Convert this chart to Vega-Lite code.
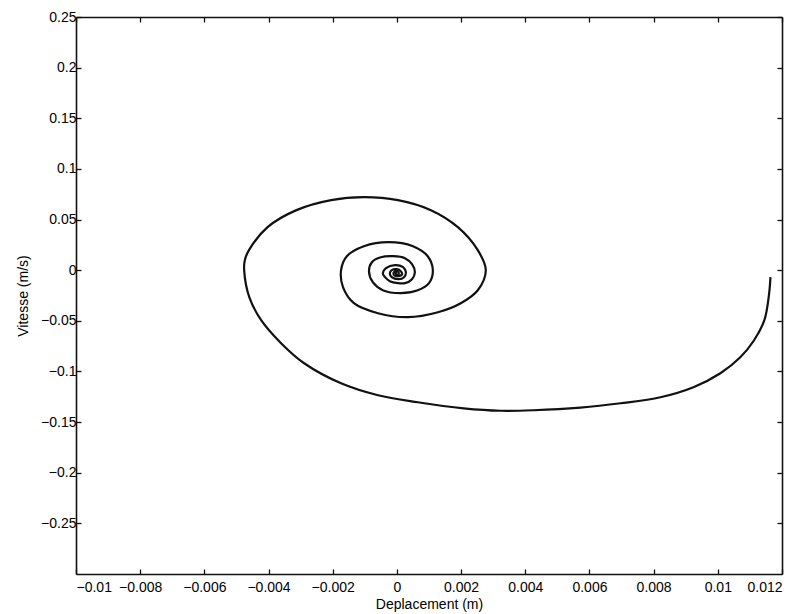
{
  "$schema": "https://vega.github.io/schema/vega-lite/v6.json",
  "width": 706,
  "height": 557,
  "autosize": {"type": "none"},
  "padding": {"left": 76, "top": 17, "right": 21, "bottom": 40},
  "background": "white",
  "config": {
    "view": {"stroke": null},
    "axis": {
      "labelFont": "Liberation Sans",
      "titleFont": "Liberation Sans",
      "labelFontSize": 14,
      "titleFontSize": 14,
      "labelFontWeight": "normal",
      "titleFontWeight": "normal",
      "labelColor": "#000",
      "titleColor": "#000",
      "domainColor": "#111",
      "domainWidth": 1.6,
      "tickColor": "#111",
      "tickWidth": 1.3,
      "tickSize": -5,
      "grid": false
    }
  },
  "data": {
    "values": [
      {"t": 1, "x": 0.01164, "v": -0.0069},
      {"t": 2, "x": 0.0116, "v": -0.0227},
      {"t": 3, "x": 0.01145, "v": -0.0494},
      {"t": 4, "x": 0.01113, "v": -0.0692},
      {"t": 5, "x": 0.0107, "v": -0.086},
      {"t": 6, "x": 0.01008, "v": -0.1018},
      {"t": 7, "x": 0.00924, "v": -0.1156},
      {"t": 8, "x": 0.00821, "v": -0.1255},
      {"t": 9, "x": 0.00697, "v": -0.1314},
      {"t": 10, "x": 0.00572, "v": -0.1357},
      {"t": 11, "x": 0.00426, "v": -0.1383},
      {"t": 12, "x": 0.00324, "v": -0.1388},
      {"t": 13, "x": 0.00208, "v": -0.1364},
      {"t": 14, "x": 0.00065, "v": -0.1304},
      {"t": 15, "x": -0.00059, "v": -0.1235},
      {"t": 16, "x": -0.00174, "v": -0.1117},
      {"t": 17, "x": -0.00289, "v": -0.0919},
      {"t": 18, "x": -0.00361, "v": -0.0721},
      {"t": 19, "x": -0.00423, "v": -0.0494},
      {"t": 20, "x": -0.0046, "v": -0.0267},
      {"t": 21, "x": -0.00476, "v": 0},
      {"t": 22, "x": -0.00474, "v": 0.0099},
      {"t": 23, "x": -0.00461, "v": 0.0198},
      {"t": 24, "x": -0.00403, "v": 0.0425},
      {"t": 25, "x": -0.00313, "v": 0.0593},
      {"t": 26, "x": -0.00205, "v": 0.0692},
      {"t": 27, "x": -0.00103, "v": 0.0721},
      {"t": 28, "x": 0.00003, "v": 0.0692},
      {"t": 29, "x": 0.00106, "v": 0.0593},
      {"t": 30, "x": 0.0019, "v": 0.0425},
      {"t": 31, "x": 0.00252, "v": 0.0198},
      {"t": 32, "x": 0.00277, "v": 0},
      {"t": 33, "x": 0.00252, "v": -0.0198},
      {"t": 34, "x": 0.00199, "v": -0.0326},
      {"t": 35, "x": 0.00128, "v": -0.0415},
      {"t": 36, "x": 0.00034, "v": -0.0464},
      {"t": 37, "x": -0.00059, "v": -0.0425},
      {"t": 38, "x": -0.00134, "v": -0.0326},
      {"t": 39, "x": -0.00168, "v": -0.0168},
      {"t": 40, "x": -0.00174, "v": 0},
      {"t": 41, "x": -0.00156, "v": 0.0138},
      {"t": 42, "x": -0.00103, "v": 0.0237},
      {"t": 43, "x": -0.00025, "v": 0.0277},
      {"t": 44, "x": 0.0005, "v": 0.0237},
      {"t": 45, "x": 0.00096, "v": 0.0138},
      {"t": 46, "x": 0.00112, "v": 0},
      {"t": 47, "x": 0.001, "v": -0.0128},
      {"t": 48, "x": 0.00065, "v": -0.0198},
      {"t": 49, "x": 0.00012, "v": -0.0227},
      {"t": 50, "x": -0.00044, "v": -0.0198},
      {"t": 51, "x": -0.00075, "v": -0.0119},
      {"t": 52, "x": -0.00087, "v": -0.001},
      {"t": 53, "x": -0.00078, "v": 0.0079},
      {"t": 54, "x": -0.0005, "v": 0.0128},
      {"t": 55, "x": -0.00012, "v": 0.0138},
      {"t": 56, "x": 0.00025, "v": 0.0119},
      {"t": 57, "x": 0.00047, "v": 0.0059},
      {"t": 58, "x": 0.00056, "v": -0.002},
      {"t": 59, "x": 0.00047, "v": -0.0089},
      {"t": 60, "x": 0.00025, "v": -0.0128},
      {"t": 61, "x": 0.00003, "v": -0.0128},
      {"t": 62, "x": -0.00022, "v": -0.0109},
      {"t": 63, "x": -0.00037, "v": -0.0069},
      {"t": 64, "x": -0.00044, "v": -0.003},
      {"t": 65, "x": -0.00034, "v": 0.002},
      {"t": 66, "x": -0.00006, "v": 0.0049},
      {"t": 67, "x": 0.00019, "v": 0.003},
      {"t": 68, "x": 0.00028, "v": -0.002},
      {"t": 69, "x": 0.00022, "v": -0.0069},
      {"t": 70, "x": 0.00006, "v": -0.0089},
      {"t": 71, "x": -0.00016, "v": -0.0069},
      {"t": 72, "x": -0.00022, "v": -0.003},
      {"t": 73, "x": -0.00016, "v": 0},
      {"t": 74, "x": 0, "v": 0.001},
      {"t": 75, "x": 0.00012, "v": -0.001},
      {"t": 76, "x": 0.00016, "v": -0.004},
      {"t": 77, "x": 0.00003, "v": -0.0059},
      {"t": 78, "x": -0.00009, "v": -0.0049},
      {"t": 79, "x": -0.00009, "v": -0.002},
      {"t": 80, "x": 0, "v": -0.001},
      {"t": 81, "x": 0.00006, "v": -0.003},
      {"t": 82, "x": 0, "v": -0.0049},
      {"t": 83, "x": -0.00003, "v": -0.003},
      {"t": 84, "x": 0, "v": -0.003}
    ]
  },
  "layer": [
    {
      "mark": {"type": "line", "color": "#111", "strokeWidth": 2.2, "interpolate": "catmull-rom"},
      "encoding": {
        "x": {
          "field": "x", "type": "quantitative",
          "scale": {"domain": [-0.01, 0.012], "nice": false, "zero": false},
          "axis": {
            "orient": "bottom",
            "title": "Deplacement (m)",
            "values": [-0.01, -0.008, -0.006, -0.004, -0.002, 0, 0.002, 0.004, 0.006, 0.008, 0.01, 0.012],
            "format": "~g",
            "labelPadding": 11,
            "titlePadding": 3
          }
        },
        "y": {
          "field": "v", "type": "quantitative",
          "scale": {"domain": [-0.3, 0.25], "nice": false, "zero": false},
          "axis": {
            "orient": "left",
            "title": "Vitesse (m/s)",
            "values": [-0.25, -0.2, -0.15, -0.1, -0.05, 0, 0.05, 0.1, 0.15, 0.2, 0.25],
            "format": "~g",
            "labelPadding": 5,
            "titlePadding": 10
          }
        },
        "order": {"field": "t", "type": "quantitative"}
      }
    },
    {
      "mark": {"type": "point", "opacity": 0},
      "encoding": {
        "x": {
          "field": "x", "type": "quantitative",
          "scale": {"domain": [-0.01, 0.012], "nice": false, "zero": false},
          "axis": {
            "orient": "top", "title": null, "labels": false,
            "values": [-0.01, -0.008, -0.006, -0.004, -0.002, 0, 0.002, 0.004, 0.006, 0.008, 0.01, 0.012]
          }
        },
        "y": {
          "field": "v", "type": "quantitative",
          "scale": {"domain": [-0.3, 0.25], "nice": false, "zero": false},
          "axis": {
            "orient": "right", "title": null, "labels": false,
            "values": [-0.25, -0.2, -0.15, -0.1, -0.05, 0, 0.05, 0.1, 0.15, 0.2, 0.25]
          }
        }
      }
    }
  ],
  "resolve": {"axis": {"x": "independent", "y": "independent"}}
}
